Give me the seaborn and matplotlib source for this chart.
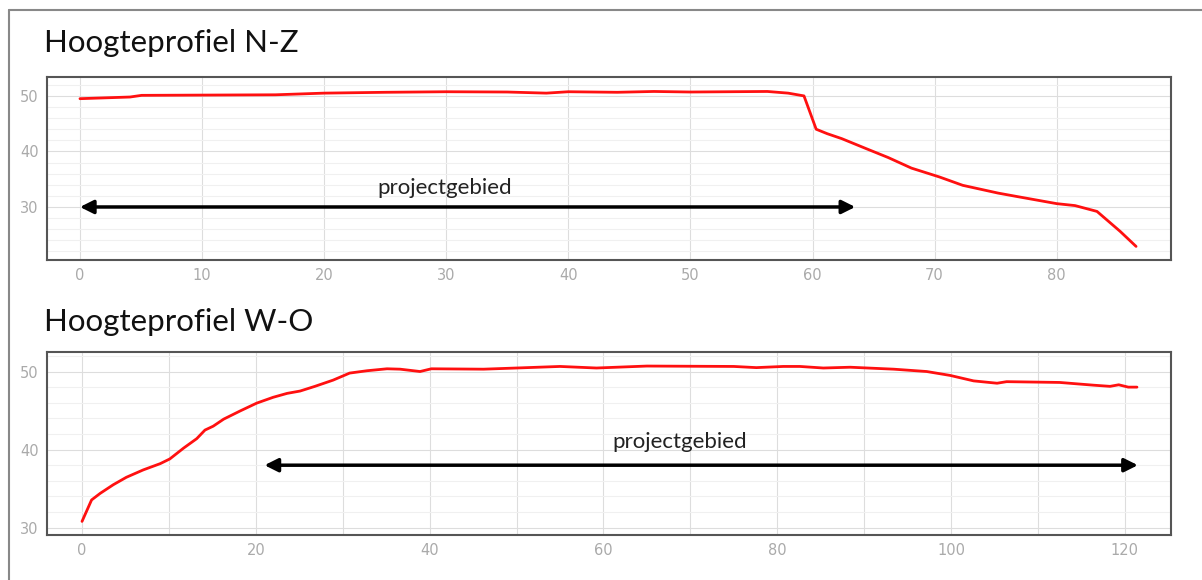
import matplotlib
matplotlib.use("Agg")
import matplotlib.pyplot as plt
from matplotlib.ticker import MultipleLocator, FuncFormatter
from matplotlib.lines import Line2D
import seaborn as sns
import pandas as pd

# Hoogteprofiel N-Z (afstand, hoogte)
nz_afstand = [0, 4.1, 5.05, 16, 20, 25, 30, 35, 38.2, 40, 44, 47, 50, 56.3, 58, 59.3,
              60.3, 61.2, 62.4, 64.4, 66.2, 68.1, 70.4, 72.3, 75.2, 76.7, 80, 81.5,
              83.3, 85.2, 86.5]
nz_hoogte = [49.5, 49.8, 50.1, 50.2, 50.5, 50.65, 50.75, 50.7, 50.5, 50.75, 50.65, 50.8,
             50.7, 50.8, 50.5, 50.0, 44.0, 43.2, 42.3, 40.5, 38.9, 37.0, 35.4, 33.9,
             32.5, 31.9, 30.6, 30.25, 29.2, 25.6, 22.9]

# Hoogteprofiel W-O (afstand, hoogte)
wo_afstand = [0, 1.1, 2.1, 3.6, 5.1, 7.05, 9.0, 10.1, 11.7, 13.2, 14.15, 15.1, 16.3,
              18.2, 20.1, 22, 23.6, 25.1, 26.8, 28.9, 30.8, 32.8, 35.1, 36.6, 38.9,
              40.2, 46.2, 50, 55, 59.2, 65, 75, 77.6, 80.7, 82.6, 85.3, 88.4, 93.4,
              97.2, 99.9, 102.6, 105.3, 106.4, 112.5, 116.4, 118.3, 119.3, 120.4, 121.4]
wo_hoogte = [30.8, 33.55, 34.4, 35.5, 36.45, 37.4, 38.2, 38.8, 40.2, 41.4, 42.5, 43.0,
             43.9, 44.95, 45.95, 46.7, 47.2, 47.5, 48.1, 48.9, 49.8, 50.1, 50.35, 50.3,
             50.0, 50.35, 50.3, 50.45, 50.65, 50.45, 50.7, 50.65, 50.5, 50.65, 50.65,
             50.45, 50.55, 50.3, 50.0, 49.5, 48.8, 48.5, 48.7, 48.6, 48.25, 48.1, 48.3,
             48.0, 48.0]

titels = ["Hoogteprofiel N-Z", "Hoogteprofiel W-O"]
label = "projectgebied"
pijl_nz = (0, 63.5, 30)
pijl_wo = (21, 121.5, 38)

sns.set_style("whitegrid")
plt.rcParams['font.family'] = ['Lato', 'DejaVu Sans']

fig = plt.figure(figsize=(12.02, 5.8), dpi=100)
ax1 = fig.add_axes([0.0391, 0.5517, 0.935, 0.3155])
ax2 = fig.add_axes([0.0391, 0.0776, 0.935, 0.3155])

df_nz = pd.DataFrame({"afstand": nz_afstand, "hoogte": nz_hoogte})
df_wo = pd.DataFrame({"afstand": wo_afstand, "hoogte": wo_hoogte})

sns.lineplot(data=df_nz, x="afstand", y="hoogte", ax=ax1, color="#ff1010", lw=2, sort=False)
sns.lineplot(data=df_wo, x="afstand", y="hoogte", ax=ax2, color="#ff1010", lw=2, sort=False)

ax1.set_xlim(-2.7, 89.35)
ax1.set_ylim(20.45, 53.4)
ax2.set_xlim(-4.03, 125.3)
ax2.set_ylim(29.06, 52.5)

ax1.xaxis.set_major_locator(MultipleLocator(10))
ax2.xaxis.set_major_locator(MultipleLocator(10))
ax2.xaxis.set_major_formatter(FuncFormatter(lambda v, p: f"{v:.0f}" if round(v) % 20 == 0 else ""))

for ax in (ax1, ax2):
    ax.yaxis.set_major_locator(MultipleLocator(10))
    ax.yaxis.set_minor_locator(MultipleLocator(2))
    ax.grid(which="major", color="#dddddd", lw=0.8)
    ax.grid(which="minor", axis="y", color="#f0f0f0", lw=0.8)
    ax.set_axisbelow(True)
    ax.set_xlabel("")
    ax.set_ylabel("")
    ax.tick_params(which="both", length=0, labelsize=10.5, labelcolor="#aaaaaa", pad=6)
    for lbl in ax.get_xticklabels() + ax.get_yticklabels():
        lbl.set_family("DejaVu Sans")
    for s in ax.spines.values():
        s.set_color("#555555")
        s.set_linewidth(1.5)

for ax, (x0, x1, yp), tx, ty in [(ax1, pijl_nz, 29.9, 33.4), (ax2, pijl_wo, 68.8, 41.0)]:
    ax.annotate("", xy=(x1, yp), xytext=(x0, yp),
                arrowprops=dict(arrowstyle="<|-|>", color="black", lw=2.5,
                                mutation_scale=20, shrinkA=0, shrinkB=0))
    ax.text(tx, ty, label, ha="center", va="center", fontsize=16, color="#222222")

fig.text(44 / 1202, 1 - 43 / 580, titels[0], fontsize=22.5, va="center", ha="left", color="#111111")
fig.text(44 / 1202, 1 - 322 / 580, titels[1], fontsize=22.5, va="center", ha="left", color="#111111")

# buitenrand
fig.add_artist(Line2D([8.5 / 1202, 8.5 / 1202], [0, 1 - 10 / 580], color="#888888", lw=1.5))
fig.add_artist(Line2D([8.5 / 1202, 1], [1 - 10 / 580, 1 - 10 / 580], color="#888888", lw=1.5))

fig.savefig("out.png", dpi=100)
